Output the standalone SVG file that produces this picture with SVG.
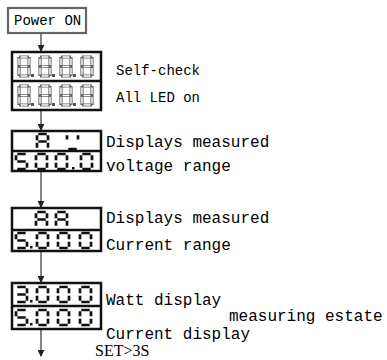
<svg xmlns="http://www.w3.org/2000/svg" width="387" height="360" viewBox="0 0 387 360">
  <style>
    .lbl { font-family: "Liberation Mono", "DejaVu Sans Mono", monospace; font-size: 16px; fill: #000; }
    .lbl-s { font-family: "Liberation Mono", "DejaVu Sans Mono", monospace; font-size: 14px; fill: #000; }
    .note { font-family: "Liberation Serif", "Times New Roman", serif; font-size: 16px; fill: #000; }
    .panel { fill: #fff; stroke: #111; stroke-width: 2.5; }
    .divider { stroke: #111; stroke-width: 2.5; }
    .wire { stroke: #333; stroke-width: 1.2; fill: none; }
    .seg { fill: none; stroke: #111; stroke-width: 2.7; stroke-linecap: butt; }
    .seg-hollow-o { fill: none; stroke: #666; stroke-width: 3.2; stroke-linecap: square; }
    .seg-hollow-i { fill: none; stroke: #fff; stroke-width: 1.4; stroke-linecap: butt; }
  </style>
  <defs>
    <marker id="arrow" viewBox="0 0 8 8" refX="7" refY="4" markerWidth="7" markerHeight="7" markerUnits="userSpaceOnUse" orient="auto">
      <path d="M0,0 L8,4 L0,8 z" fill="#222"/>
    </marker>
    <!-- tall hollow "8." cell used in the self-check panel -->
    <path id="d8tall" d="M1.6,0H8.4M10,1.6V8M10,11V17.4M1.6,19H8.4M0,11V17.4M0,1.6V8M1.6,9.5H8.4"/>
    <!-- 7-segment glyph cells, 11 x 15 -->
    <path id="d0" d="M1.3,0H9.7M11,1.3V6.3M11,8.7V13.7M1.3,15H9.7M0,8.7V13.7M0,1.3V6.3"/>
    <path id="d5" d="M1.3,0H9.7M0,1.3V6.3M1.3,7.5H9.7M11,8.7V13.7M1.3,15H9.7"/>
    <path id="d3" d="M1.3,0H9.7M11,1.3V6.3M1.3,7.5H9.7M11,8.7V13.7M1.3,15H9.7"/>
    <path id="dA" d="M1.3,0H9.7M11,1.3V6.3M11,8.7V13.7M0,8.7V13.7M0,1.3V6.3M1.3,7.5H9.7"/>
    <path id="dU" d="M0,1.3V5.5M11,1.3V5.5M1.3,15H9.7"/>
  </defs>

  <!-- connectors -->
  <g id="connectors">
    <line class="wire" x1="41" y1="33" x2="41" y2="51" marker-end="url(#arrow)"/>
    <line class="wire" x1="41" y1="110" x2="41" y2="130" marker-end="url(#arrow)"/>
    <line class="wire" x1="41" y1="171" x2="41" y2="207" marker-end="url(#arrow)"/>
    <line class="wire" x1="41" y1="251" x2="41" y2="282" marker-end="url(#arrow)"/>
    <line class="wire" x1="41" y1="329" x2="41" y2="356" marker-end="url(#arrow)"/>
  </g>

  <!-- start node -->
  <g id="power-on">
    <rect x="8" y="8" width="78" height="25" fill="#fff" stroke="#666" stroke-width="2.2"/>
    <text class="lbl-s" x="14" y="25">Power ON</text>
  </g>

  <!-- self-check: every segment lit -->
  <g id="self-check">
    <rect class="panel" x="12" y="52" width="89" height="58"/>
    <line class="divider" x1="12" y1="81" x2="101" y2="81"/>
    <g class="seg-hollow-o">
      <use href="#d8tall" x="19" y="57"/><use href="#d8tall" x="40" y="57"/>
      <use href="#d8tall" x="61" y="57"/><use href="#d8tall" x="82" y="57"/>
      <use href="#d8tall" x="19" y="86"/><use href="#d8tall" x="40" y="86"/>
      <use href="#d8tall" x="61" y="86"/><use href="#d8tall" x="82" y="86"/>
    </g>
    <g class="seg-hollow-i">
      <use href="#d8tall" x="19" y="57"/><use href="#d8tall" x="40" y="57"/>
      <use href="#d8tall" x="61" y="57"/><use href="#d8tall" x="82" y="57"/>
      <use href="#d8tall" x="19" y="86"/><use href="#d8tall" x="40" y="86"/>
      <use href="#d8tall" x="61" y="86"/><use href="#d8tall" x="82" y="86"/>
    </g>
    <g fill="#555">
      <rect x="31" y="74" width="3" height="3"/><rect x="52" y="74" width="3" height="3"/><rect x="73" y="74" width="3" height="3"/>
      <rect x="31" y="103" width="3" height="3"/><rect x="52" y="103" width="3" height="3"/><rect x="73" y="103" width="3" height="3"/>
    </g>
    <text class="lbl-s" x="116" y="75">Self-check</text>
    <text class="lbl-s" x="116" y="102">All LED on</text>
  </g>

  <!-- voltage range -->
  <g id="voltage-range">
    <rect class="panel" x="12" y="131" width="89" height="40"/>
    <line class="divider" x1="12" y1="151" x2="101" y2="151"/>
    <g class="seg">
      <use href="#dA" x="37" y="134"/>
      <use href="#dU" x="67" y="134"/>
      <use href="#d5" x="16" y="154"/>
      <use href="#d0" x="36" y="154"/>
      <use href="#d0" x="56" y="154"/>
      <use href="#d0" x="81" y="154"/>
    </g>
    <rect x="72" y="167" width="2.5" height="2.5" fill="#111"/>
    <text class="lbl" x="106" y="147">Displays measured</text>
    <text class="lbl" x="106" y="171">voltage range</text>
  </g>

  <!-- current range -->
  <g id="current-range">
    <rect class="panel" x="12" y="208" width="89" height="43"/>
    <line class="divider" x1="12" y1="230" x2="101" y2="230"/>
    <g class="seg">
      <use href="#dA" x="36" y="212"/>
      <use href="#dA" x="56" y="212"/>
      <use href="#d5" x="16" y="233"/>
      <use href="#d0" x="37" y="233"/>
      <use href="#d0" x="58" y="233"/>
      <use href="#d0" x="80" y="233"/>
    </g>
    <rect x="30" y="246" width="2.5" height="2.5" fill="#111"/>
    <text class="lbl" x="106" y="223">Displays measured</text>
    <text class="lbl" x="106" y="250">Current range</text>
  </g>

  <!-- measuring state -->
  <g id="measuring">
    <rect class="panel" x="12" y="283" width="89" height="46"/>
    <line class="divider" x1="12" y1="306" x2="101" y2="306"/>
    <g class="seg">
      <use href="#d3" x="16" y="287"/>
      <use href="#d0" x="37" y="287"/>
      <use href="#d0" x="58" y="287"/>
      <use href="#d0" x="80" y="287"/>
      <use href="#d5" x="16" y="310"/>
      <use href="#d0" x="37" y="310"/>
      <use href="#d0" x="58" y="310"/>
      <use href="#d0" x="80" y="310"/>
    </g>
    <rect x="30" y="300" width="2.5" height="2.5" fill="#111"/>
    <rect x="30" y="323" width="2.5" height="2.5" fill="#111"/>
    <text class="lbl" x="106" y="305">Watt display</text>
    <text class="lbl" x="229" y="321">measuring estate</text>
    <text class="lbl" x="106" y="339">Current display</text>
    <text class="note" x="95" y="356">SET&gt;3S</text>
  </g>
</svg>
